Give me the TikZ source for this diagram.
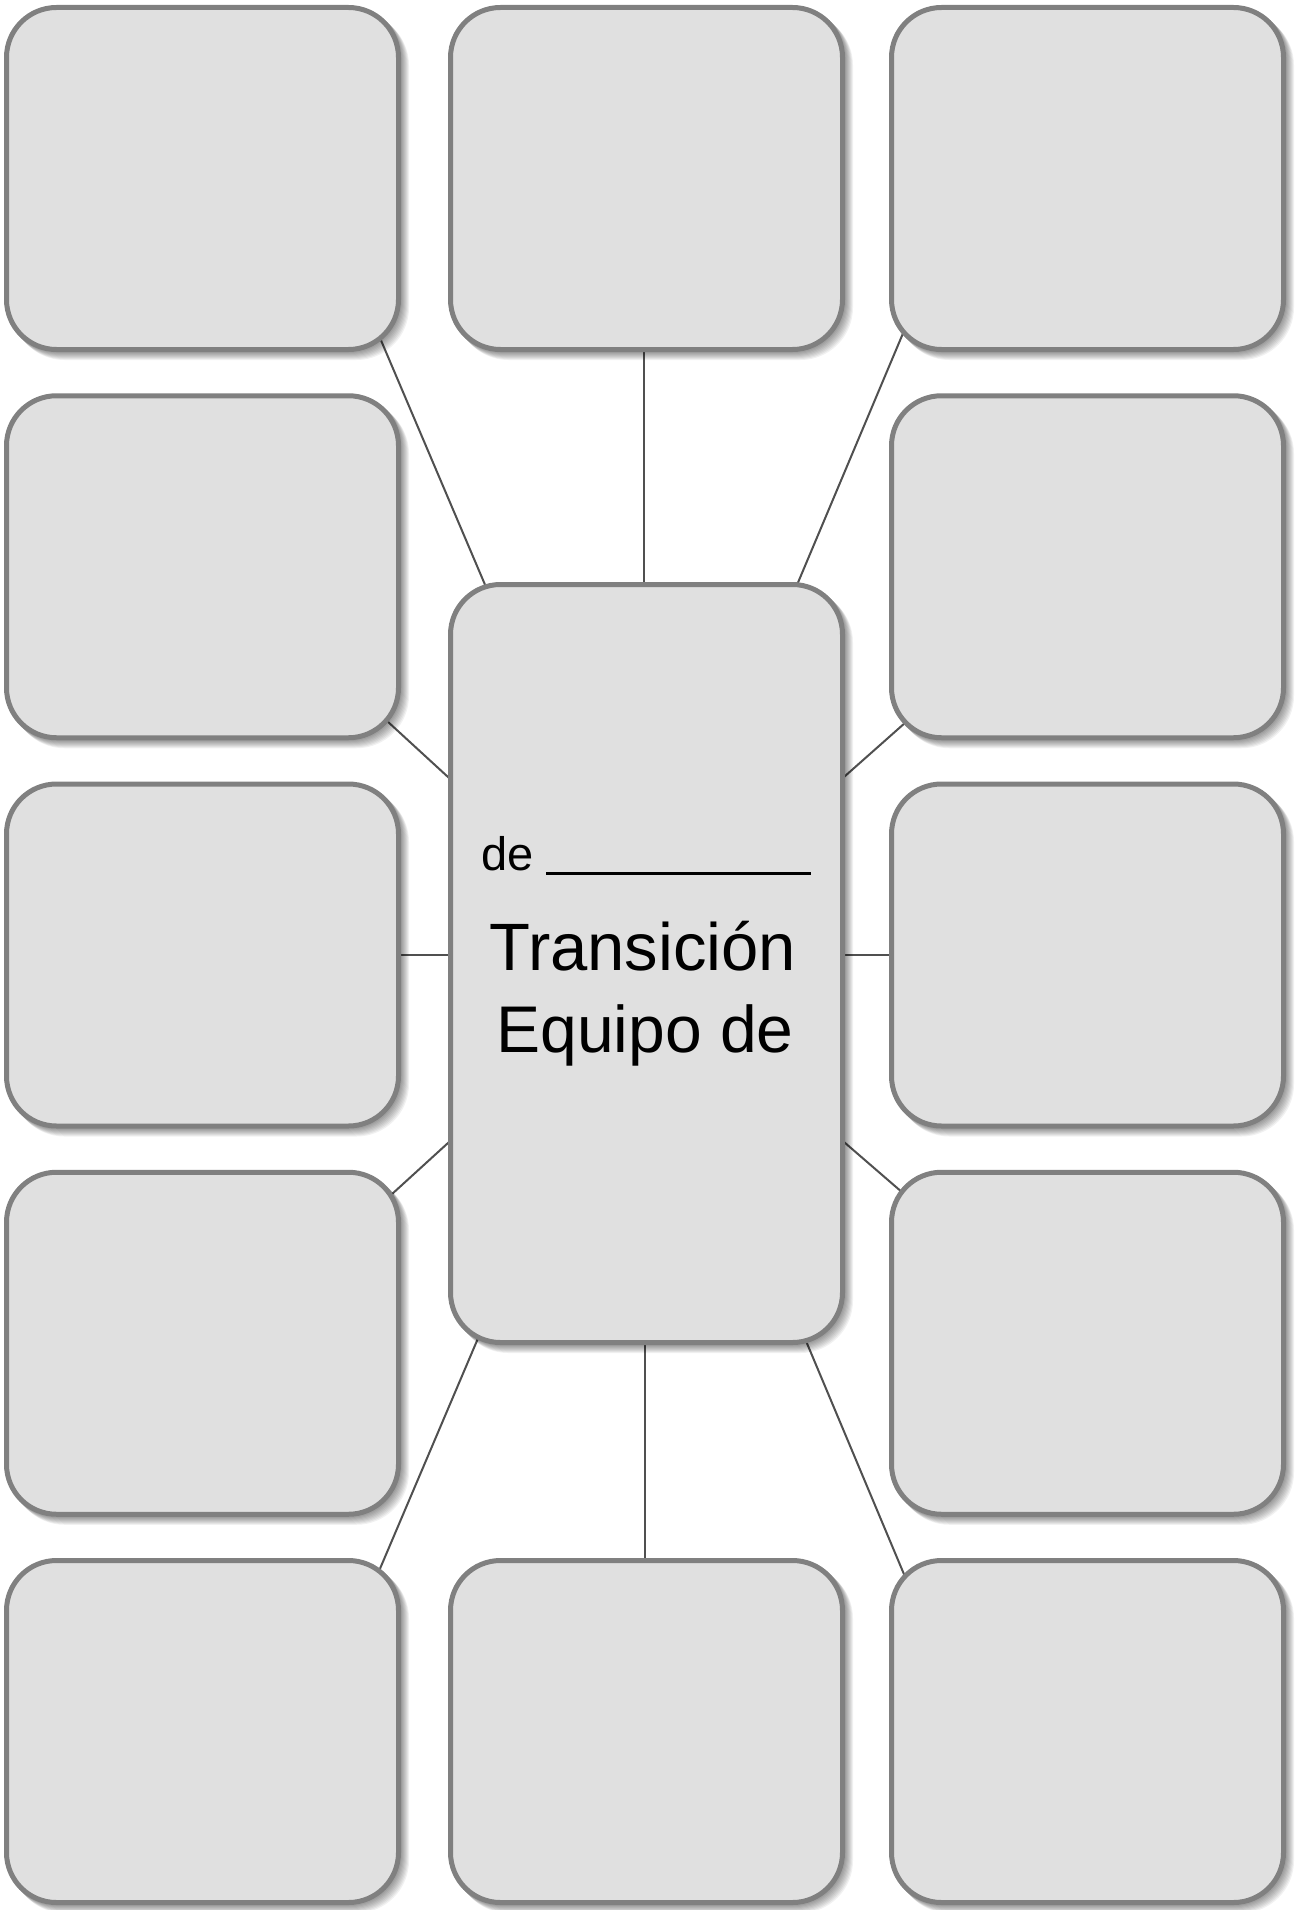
\documentclass[tikz,border=0pt]{standalone}
\usepackage{fontspec}
\setmainfont{Liberation Sans}
\usetikzlibrary{calc}
\definecolor{boxfill}{HTML}{E0E0E0}
\definecolor{boxline}{HTML}{808080}
\definecolor{linkcol}{HTML}{505050}
\pgfdeclarelayer{bglayer}
\pgfdeclarelayer{shdlayer}
\pgfsetlayers{bglayer,shdlayer,main}
\begin{document}
\begin{tikzpicture}[x=1pt,y=-1pt,
  card/.style={draw=boxline, fill=boxfill, line width=5pt, rounded corners=50pt,
    minimum width=392pt, minimum height=342pt, outer sep=0pt, inner sep=0pt},
  bigcard/.style={card, minimum height=758pt},
  linkline/.style={draw=linkcol, line width=2pt},
  shadowpiece/.style={fill=black, fill opacity=0.055, rounded corners=52.5pt},
  txt/.style={inner sep=0pt, outer sep=0pt, text=black}
]
\begin{pgfonlayer}{bglayer}
  \fill[white] (0,0) rectangle (1306,1910);
\end{pgfonlayer}
\useasboundingbox (0,0) rectangle (1306,1910);

% outer boxes
\node[card] (a1) at (202.5,178.5) {};
\node[card] (b1) at (646.5,178.5) {};
\node[card] (c1) at (1087.5,178.5) {};
\node[card] (a2) at (202.5,566.75) {};
\node[card] (c2) at (1087.5,566.75) {};
\node[card] (a3) at (202.5,955) {};
\node[card] (c3) at (1087.5,955) {};
\node[card] (a4) at (202.5,1343.25) {};
\node[card] (c4) at (1087.5,1343.25) {};
\node[card] (a5) at (202.5,1731.5) {};
\node[card] (b5) at (646.5,1731.5) {};
\node[card] (c5) at (1087.5,1731.5) {};

% centre box
\node[bigcard] (ctr) at (646.5,963.5) {};

% soft shadows
\begin{pgfonlayer}{shdlayer}
  \foreach \n in {a1,b1,c1,a2,c2,a3,c3,a4,c4,a5,b5,c5,ctr}{
    \foreach \s in {1,...,8}{
      \fill[shadowpiece] ($(\n.north west)+(\s-2.5,\s-2.5)$) rectangle ($(\n.south east)+(\s+2.5,\s+2.5)$);
    }
  }
\end{pgfonlayer}

% texts
\node[txt, anchor=base west, font=\fontsize{47}{56}\selectfont] (de) at (481,870) {de};
\draw[line width=3pt, black] ($(de.base east)+(13,3)$) -- ++(265,0);
\node[txt, anchor=base, font=\fontsize{67}{80}\selectfont] (t1) at (643,970) {Transición};
\node[txt, anchor=base, font=\fontsize{66}{80}\selectfont] (t2) at (645,1052) {Equipo de};

% connectors
\begin{pgfonlayer}{bglayer}
  \draw[linkline] ($(a1.south east)+(-27,-31.5)$) -- ($(ctr.north west)+(44,22.5)$);
  \draw[linkline] ($(b1.center)+(-2.5,0)$) -- ($(ctr.center)+(-2.5,0)$);
  \draw[linkline] ($(c1.south west)+(20.9,-38.5)$) -- ($(ctr.north east)+(-54.8,22.5)$);
  \draw[linkline] ($(a2.south east)+(-31.5,-35.15)$) -- ($(ctr.north west)+(19.5,212.7)$);
  \draw[linkline] ($(c2.south west)+(34.5,-33.45)$) -- ($(ctr.north east)+(-18.5,210.2)$);
  \draw[linkline] (a3.center) -- (a3.center -| ctr.center);
  \draw[linkline] (c3.center) -- (c3.center -| ctr.center);
  \draw[linkline] ($(a4.north east)+(-27.5,40.95)$) -- ($(ctr.south west)+(19.5,-219.6)$);
  \draw[linkline] ($(c4.north west)+(31.5,38.05)$) -- ($(ctr.south east)+(-18.5,-217.8)$);
  \draw[linkline] ($(a5.north east)+(-28,30.5)$) -- ($(ctr.south west)+(37,-26.5)$);
  \draw[linkline] ($(b5.center)+(-1.5,0)$) -- ($(ctr.center)+(-1.5,0)$);
  \draw[linkline] ($(c5.north west)+(22.9,38.5)$) -- ($(ctr.south east)+(-44.9,-21.5)$);
\end{pgfonlayer}
\end{tikzpicture}
\end{document}
